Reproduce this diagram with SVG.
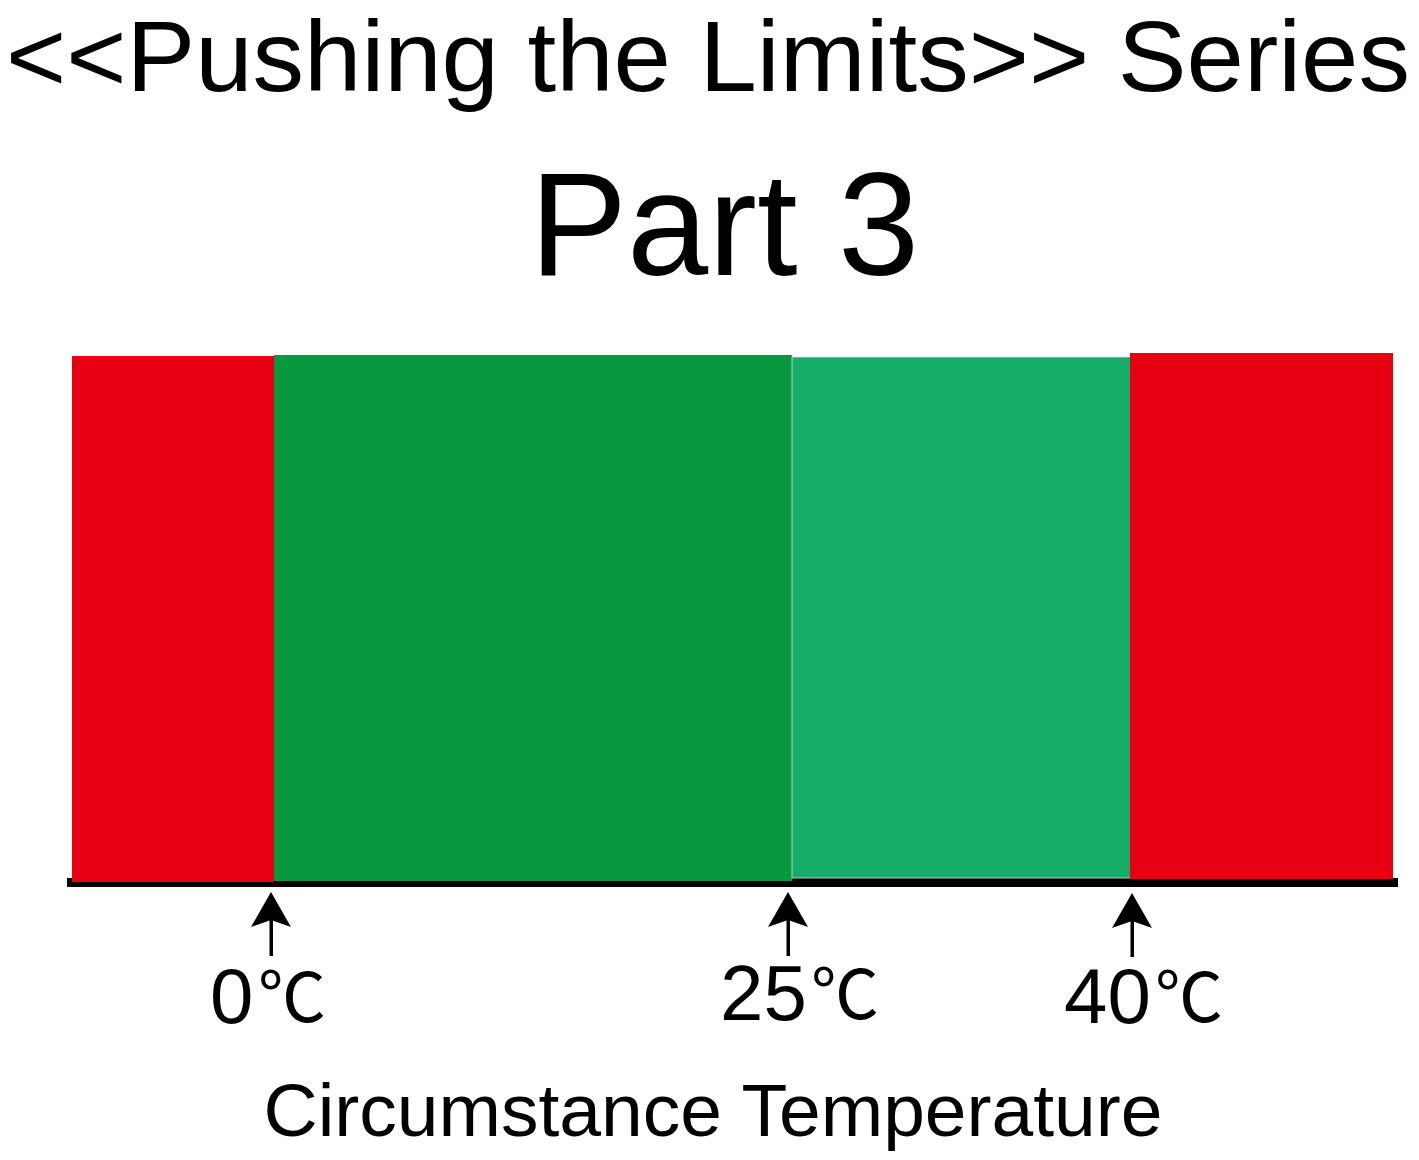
<svg xmlns="http://www.w3.org/2000/svg" width="1419" height="1160" viewBox="0 0 1419 1160">
  <style>
    .sans { font-family: "Liberation Sans", Arial, sans-serif; fill: #000; }
    .deg { font-family: "Noto Sans CJK SC", "DejaVu Sans", sans-serif; fill: #000; }
    .red { fill: #E60012; }
    .dg { fill: #08983E; }
    .lg { fill: #15AD67; }
  </style>
  <defs>
    <path id="arrowhead" d="M0,0 L20,35 L0,28 L-20,35 Z" fill="#000"/>
  </defs>
  <rect width="1419" height="1160" fill="#fff"/>

  <g id="title">
    <text class="sans" x="6" y="91" font-size="100" textLength="1404" lengthAdjust="spacingAndGlyphs">&lt;&lt;Pushing the Limits&gt;&gt; Series</text>
    <text class="sans" x="724.5" y="275" font-size="146" text-anchor="middle">Part 3</text>
  </g>

  <g id="axis">
    <rect x="67" y="878" width="1331" height="9" fill="#000"/>
  </g>

  <g id="band-cold">
    <rect class="red" x="72" y="356" width="202" height="526"/>
  </g>
  <g id="band-optimal">
    <rect class="dg" x="274" y="355" width="518" height="526"/>
  </g>
  <g id="band-warm">
    <rect class="lg" x="792" y="357" width="341" height="521" stroke="#cfe9dc" stroke-width="0.8"/>
  </g>
  <g id="band-hot">
    <rect class="red" x="1130" y="353" width="263" height="526"/>
  </g>

  <g id="connectors">
    <g>
      <use href="#arrowhead" x="271" y="892"/>
      <rect x="269.5" y="918" width="3.5" height="38" fill="#000"/>
    </g>
    <g>
      <use href="#arrowhead" x="788" y="892"/>
      <rect x="786.5" y="918" width="3.5" height="38" fill="#000"/>
    </g>
    <g>
      <use href="#arrowhead" x="1132" y="893"/>
      <rect x="1130.5" y="919" width="3.5" height="38" fill="#000"/>
    </g>
  </g>

  <g id="label-0">
    <text class="sans" x="210" y="1023" font-size="78">0<tspan class="deg" x="258" y="1022" font-size="68">℃</tspan></text>
  </g>
  <g id="label-25">
    <text class="sans" x="720" y="1020" font-size="78">25<tspan class="deg" x="811" y="1019" font-size="68">℃</tspan></text>
  </g>
  <g id="label-40">
    <text class="sans" x="1064" y="1023" font-size="78">40<tspan class="deg" x="1155" y="1022" font-size="68">℃</tspan></text>
  </g>

  <g id="xlabel">
    <text class="sans" x="713" y="1136" font-size="75" text-anchor="middle">Circumstance Temperature</text>
  </g>
</svg>
